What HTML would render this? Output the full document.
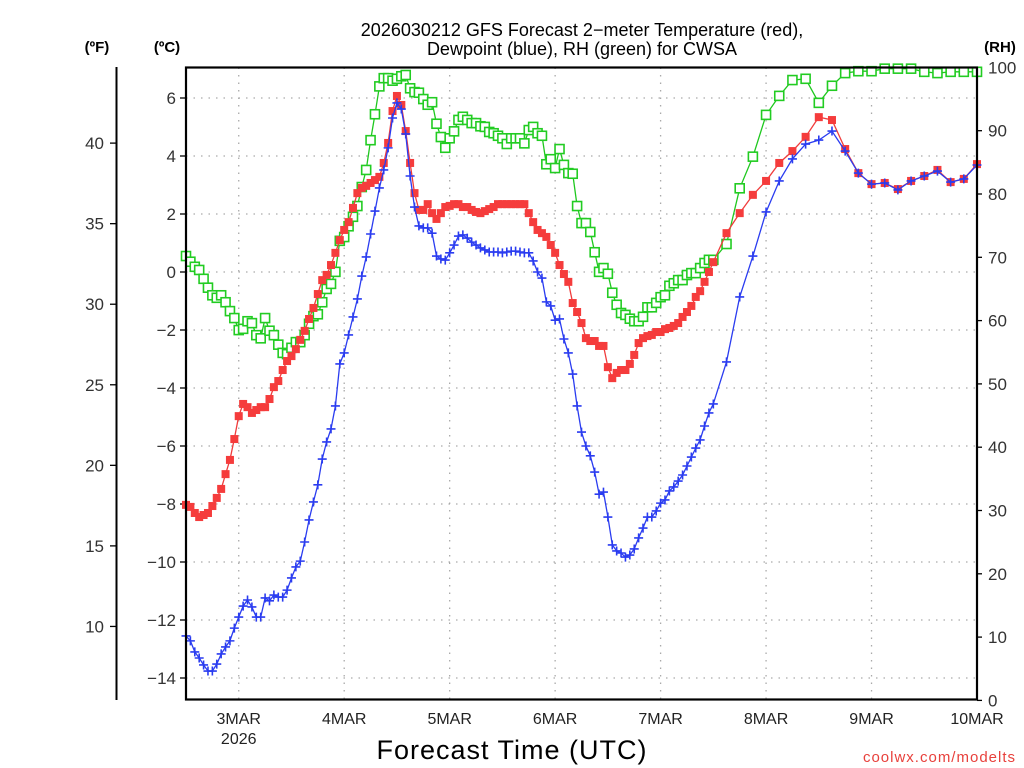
<!DOCTYPE html>
<html><head><meta charset="utf-8"><style>
html,body{margin:0;padding:0;background:#fff;}
svg{display:block;font-family:"Liberation Sans",sans-serif;}
</style></head><body>
<svg id="chart" width="1024" height="768" viewBox="0 0 1024 768" xmlns="http://www.w3.org/2000/svg">
<text x="582" y="36" text-anchor="middle" font-size="18" fill="#000">2026030212 GFS Forecast 2−meter Temperature (red),</text>
<text x="582" y="55" text-anchor="middle" font-size="18" fill="#000">Dewpoint (blue), RH (green) for CWSA</text>
<text x="97" y="52" text-anchor="middle" font-size="15" font-weight="bold">(ºF)</text>
<text x="167" y="52" text-anchor="middle" font-size="15" font-weight="bold">(ºC)</text>
<text x="1000" y="52" text-anchor="middle" font-size="15" font-weight="bold">(RH)</text>
<text x="512" y="759" text-anchor="middle" font-size="27" letter-spacing="1">Forecast Time (UTC)</text>
<text x="1016" y="762" text-anchor="end" font-size="15" fill="#e8413c" letter-spacing="1">coolwx.com/modelts</text>
<g id="grid"></g>
<g id="axes"></g>
<g id="series"></g>
<rect x="186" y="67.5" width="791" height="632" fill="none" stroke="#000" stroke-width="2.2"/>
</svg>
<script>
const dayLabels = ["3MAR","4MAR","5MAR","6MAR","7MAR","8MAR","9MAR","10MAR"];
const celsiusTicks = [6,4,2,0,-2,-4,-6,-8,-10,-12,-14];
const fahrenheitTicks = [40,35,30,25,20,15,10];
const rhTicks = [0,10,20,30,40,50,60,70,80,90,100];

const tempC = [-8.03,-8.10,-8.31,-8.45,-8.38,-8.31,-8.07,-7.79,-7.48,-6.97,-6.48,-5.76,-4.97,-4.55,-4.66,-4.86,-4.76,-4.66,-4.66,-4.38,-3.97,-3.76,-3.38,-3.07,-2.90,-2.66,-2.34,-2.03,-1.62,-1.24,-0.76,-0.28,-0.10,0.24,0.66,1.10,1.45,
1.72,2.21,2.72,2.90,2.97,3.07,3.17,3.28,3.76,4.45,5.55,6.07,5.76,4.86,3.76,2.72,2.14,2.14,2.34,2.03,1.83,2.03,2.24,2.28,2.34,2.34,2.24,2.24,2.14,2.07,2.03,2.10,2.17,2.24,2.34,2.34,2.34,2.34,2.34,2.34,2.34,2.03,1.72,1.45,
1.34,1.21,0.93,0.66,0.24,-0.07,-0.34,-1.07,-1.38,-1.76,-2.28,-2.38,-2.38,-2.55,-2.55,-3.28,-3.66,-3.48,-3.38,-3.38,-3.17,-2.86,-2.45,-2.28,-2.21,-2.17,-2.07,-2.07,-1.97,-1.93,-1.86,-1.76,-1.55,-1.38,-1.17,-0.86,-0.66,-0.34,0.0,0.34,
1.34,2.03,2.66,3.14,3.76,4.17,4.66,5.34,5.24,4.24,3.41,3.03,3.07,2.86,3.14,3.31,3.52,3.10,3.21,3.72];
const dewC = [-12.55,-12.72,-13.10,-13.31,-13.55,-13.76,-13.76,-13.52,-13.17,-12.93,-12.72,-12.28,-11.90,-11.52,-11.31,-11.55,-11.90,-11.90,-11.24,-11.34,-11.14,-11.21,-11.21,-10.97,-10.55,-10.17,-9.97,-9.31,-8.55,-7.93,-7.34,-6.45,-5.86,-5.41,-4.62,-3.17,-2.79,-2.17,-1.55,
-0.93,-0.14,0.52,1.31,2.10,2.90,3.52,4.28,5.31,5.83,5.62,4.76,3.31,2.24,1.59,1.52,1.52,1.34,0.55,0.45,0.41,0.66,0.93,1.24,1.28,1.17,1.03,0.93,0.83,0.76,0.69,0.69,0.69,0.66,0.69,0.72,0.72,0.69,0.66,0.66,0.38,0.0,
-0.21,-1.03,-1.17,-1.66,-1.62,-2.31,-2.79,-3.52,-4.62,-5.52,-6.00,-6.34,-6.90,-7.66,-7.59,-8.45,-9.41,-9.62,-9.69,-9.83,-9.76,-9.55,-9.17,-8.83,-8.45,-8.45,-8.24,-7.97,-7.86,-7.55,-7.41,-7.21,-7.00,-6.69,-6.38,-6.07,-5.79,-5.31,-4.86,-4.55,
-3.10,-0.86,0.55,2.07,3.14,3.90,4.41,4.55,4.86,4.17,3.41,3.03,3.07,2.83,3.14,3.31,3.48,3.10,3.21,3.69];
const rhPct = [70.2,69.3,68.5,68.0,66.6,65.2,64.0,63.6,64.0,62.9,61.5,60.4,58.5,58.7,59.9,59.6,57.7,57.2,60.4,58.4,57.7,56.2,54.9,54.7,55.7,56.6,56.6,57.7,59.5,60.7,61.0,62.9,65.0,65.8,67.7,72.6,73.2,
74.9,76.4,78.1,81.1,83.8,88.5,92.6,97.0,98.3,98.3,97.9,98.2,98.6,98.8,96.7,96.1,96.0,95.0,94.1,94.5,91.1,89.0,87.3,88.8,89.9,91.7,92.2,91.7,91.2,91.2,90.7,90.6,89.8,89.6,89.2,88.8,87.9,88.8,88.8,88.8,88.0,90.1,90.6,89.6,
89.2,84.7,85.5,84.1,87.1,84.6,83.3,83.2,78.1,75.4,75.4,74.0,70.8,67.7,68.3,67.4,64.4,62.5,61.2,60.9,60.3,59.9,59.9,60.6,62.1,62.1,62.8,63.7,64.0,65.5,65.9,66.4,66.4,67.2,67.5,67.5,68.3,69.1,69.6,69.6,
72.1,80.9,85.9,92.5,95.5,98.0,98.2,94.4,97.1,99.1,99.4,99.4,99.8,99.8,99.8,99.3,99.1,99.3,99.3,99.3];

// forecast hours: hourly to 120h, then every 3h to 180h (from 2 Mar 12Z)
const hours = [];
for (let h = 0; h <= 120; h++) hours.push(h);
for (let h = 123; h <= 180; h += 3) hours.push(h);

const X0 = 186, X1 = 977, Y0 = 67.5, Y1 = 699.5;
const xScale = h => X0 + (h / 180) * (X1 - X0);
const cScale = c => 272 - c * 29.0;
const fScale = f => cScale((f - 32) * 5 / 9);
const rhScale = r => 700.4 - r * 6.33;
const NS = "http://www.w3.org/2000/svg";
function mk(tag, attrs, parent) {
  const e = document.createElementNS(NS, tag);
  for (const k in attrs) e.setAttribute(k, attrs[k]);
  parent.appendChild(e);
  return e;
}
const grid = document.getElementById('grid');
const axes = document.getElementById('axes');
const series = document.getElementById('series');

// vertical day grid + labels
dayLabels.forEach((lab, i) => {
  const x = xScale(12 + 24 * i);
  if (i < dayLabels.length - 1) {
    const l = mk('line', {x1: x, x2: x, y1: Y0, y2: Y1, stroke: '#aaa', 'stroke-width': 1.3, 'stroke-dasharray': '1.5,6'}, grid);
    
    
  }
  const t = mk('text', {x: x, y: 724, 'text-anchor': 'middle', 'font-size': 16, fill: '#222'}, axes);
  t.textContent = lab;
  
  
});
const yr = mk('text', {x: xScale(12), y: 744, 'text-anchor': 'middle', 'font-size': 16, fill: '#222'}, axes);
yr.textContent = '2026';



// celsius axis
celsiusTicks.forEach(c => {
  const y = cScale(c);
  const g = mk('line', {x1: X0, x2: X1, y1: y, y2: y, stroke: '#aaa', 'stroke-width': 1.3, 'stroke-dasharray': '1.5,6'}, grid);
  
  
  const tk = mk('line', {x1: X0 - 6, x2: X0, y1: y, y2: y, stroke: '#000', 'stroke-width': 1.3}, axes);
  
  
  const t = mk('text', {x: X0 - 10, y: y + 6, 'text-anchor': 'end', 'font-size': 17, fill: '#333'}, axes);
  t.textContent = c < 0 ? '−' + Math.abs(c) : String(c);
  
  
});

// fahrenheit axis
const fl = mk('line', {x1: 116.5, x2: 116.5, y1: 67, y2: 700, stroke: '#000', 'stroke-width': 2}, axes);


fahrenheitTicks.forEach(f => {
  const y = fScale(f);
  const tk = mk('line', {x1: 110, x2: 116, y1: y, y2: y, stroke: '#000', 'stroke-width': 1.3}, axes);
  
  
  const t = mk('text', {x: 104, y: y + 6, 'text-anchor': 'end', 'font-size': 17, fill: '#333'}, axes);
  t.textContent = String(f);
  
  
});

// RH axis
rhTicks.forEach(r => {
  const y = rhScale(r);
  const tk = mk('line', {x1: X1, x2: X1 + 5, y1: y, y2: y, stroke: '#000', 'stroke-width': 1.3}, axes);
  
  
  const t = mk('text', {x: 988, y: y + 6, 'text-anchor': 'start', 'font-size': 17, fill: '#333'}, axes);
  t.textContent = String(r);
  
  
});

function drawLine(vals, yf, color, name) {
  const pts = vals.map((v, i) => xScale(hours[i]).toFixed(1) + ',' + yf(v).toFixed(1)).join(' ');
  const p = mk('polyline', {points: pts, fill: 'none', stroke: color, 'stroke-width': 1.3}, series);
  
  
}
// RH
drawLine(rhPct, rhScale, '#1ec81e', 'rh-line');
rhPct.forEach((v, i) => {
  const x = xScale(hours[i]), y = rhScale(v);
  const m = mk('rect', {x: x - 4.5, y: y - 4.5, width: 9, height: 9, fill: '#fff', stroke: '#22cc22', 'stroke-width': 1.6}, series);
  
  
});
// Temperature
drawLine(tempC, cScale, '#f03c3c', 'temperature-line');
tempC.forEach((v, i) => {
  const x = xScale(hours[i]), y = cScale(v);
  const m = mk('rect', {x: x - 4, y: y - 4, width: 8, height: 8, fill: '#f53c3c'}, series);
  
  
});
// Dewpoint
drawLine(dewC, cScale, '#2a3cf0', 'dewpoint-line');
dewC.forEach((v, i) => {
  const x = xScale(hours[i]), y = cScale(v);
  const m = mk('path', {d: `M${x-4.5},${y}H${x+4.5}M${x},${y-4.5}V${y+4.5}`, stroke: '#2a3cf0', 'stroke-width': 1.6, fill: 'none'}, series);
  
  
});
</script>
</body></html>
